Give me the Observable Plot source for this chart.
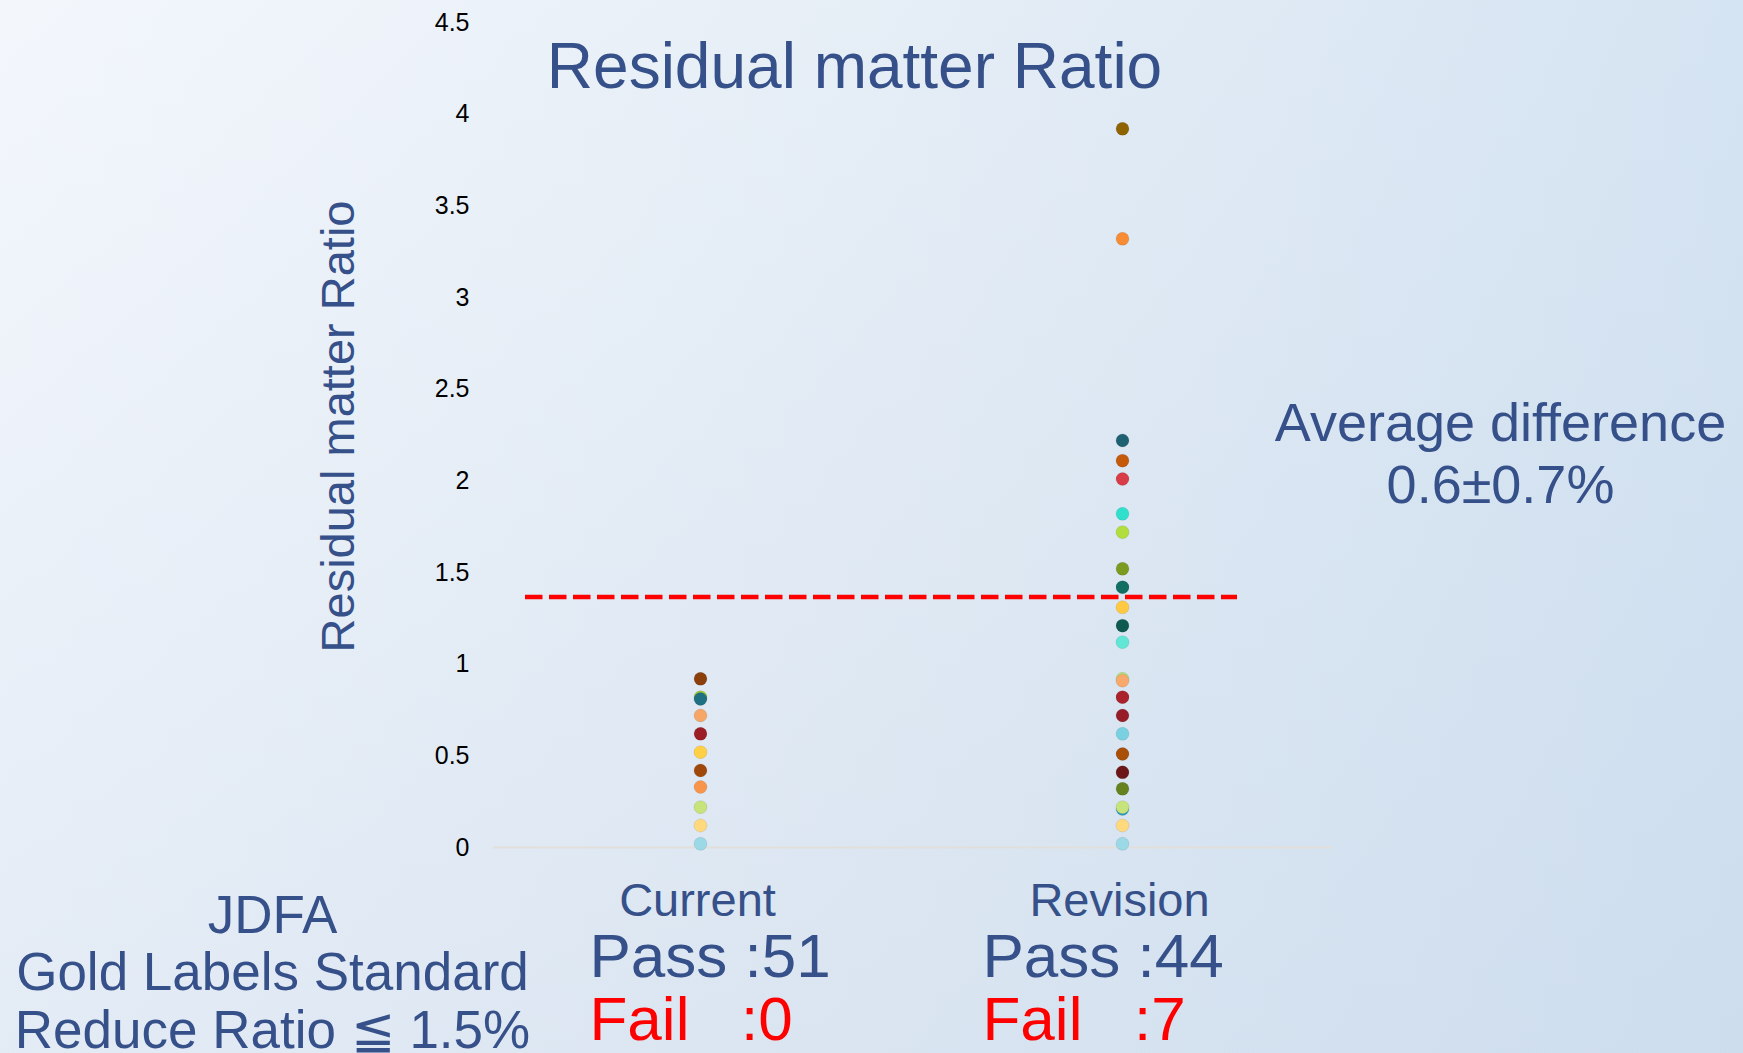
<!DOCTYPE html>
<html>
<head>
<meta charset="utf-8">
<script src="https://cdn.jsdelivr.net/npm/d3@7"></script>
<script src="https://cdn.jsdelivr.net/npm/@observablehq/plot@0.6"></script>
<style>
  html, body { margin: 0; padding: 0; }
  #chart {
    width: 1743px; height: 1053px; overflow: hidden;
    background:
      linear-gradient(to bottom, rgba(180,200,225,0) 0%, rgba(180,200,225,0.25) 100%),
      linear-gradient(to right, #f3f7fc 0%, #e6eef6 50%, #d5e4f2 100%);
  }
</style>
</head>
<body>
<div id="chart"></div>
<script>
// ---- data ----
const categories = ["Current", "Revision"];
const currentValues = [0.92, 0.82, 0.81, 0.72, 0.62, 0.52, 0.42, 0.33, 0.22, 0.12, 0.02];
const currentColors = ["#8b3f0b", "#9ccb3a", "#1f7083", "#f6a666", "#9b1d26", "#ffcf45", "#a0480a", "#f7954a", "#c6e37c", "#ffd97c", "#9bd9e6"];
const revisionValues = [3.92, 3.32, 2.22, 2.11, 2.01, 1.82, 1.72, 1.52, 1.42, 1.31, 1.21, 1.12, 0.92, 0.91, 0.82, 0.72, 0.62, 0.51, 0.41, 0.32, 0.21, 0.22, 0.12, 0.02];
const revisionColors = ["#8f6400", "#f78c34", "#1d6172", "#c55a0b", "#d83c46", "#2fe0cc", "#b2de3d", "#7a9a20", "#116e62", "#ffca42", "#0e5a50", "#62e6d5", "#b6e07c", "#f9a96c", "#aa222b", "#961d27", "#79d0e1", "#a94f07", "#6d1619", "#65821f", "#2a9bc1", "#c7e47c", "#ffd97c", "#9bd9e6"];
const yTicks = [0, 0.5, 1, 1.5, 2, 2.5, 3, 3.5, 4, 4.5];
const yTickLabels = ["0", "0.5", "1", "1.5", "2", "2.5", "3", "3.5", "4", "4.5"];
const threshold = 1.366;
const passCounts = [51, 44];
const failCounts = [0, 7];
const titleText = "Residual matter Ratio";
const yLabelText = "Residual matter Ratio";
const avgText = "Average difference\n0.6±0.7%";
const standardText = "JDFA\nGold Labels Standard\nReduce Ratio ≦ 1.5%";

const points = [
  ...currentValues.map((v, i) => ({group: categories[0], value: v, color: currentColors[i]})),
  ...revisionValues.map((v, i) => ({group: categories[1], value: v, color: revisionColors[i]}))
];

// ---- styles ----
const blue = "#36508a";
const font = "'Liberation Sans', Arial, sans-serif";

const chart = Plot.plot({
  width: 1743,
  height: 1053,
  marginLeft: 493,
  marginRight: 411,
  marginTop: 22,
  marginBottom: 206,
  style: {background: "transparent", fontFamily: font, overflow: "visible"},
  x: {type: "point", domain: categories, range: [700, 1122], padding: 0},
  y: {domain: [0, 4.5]},
  color: {type: "identity"},
  marks: [
    Plot.axisY({ticks: yTicks, tickFormat: (d, i) => yTickLabels[i], tickSize: 0, tickPadding: 24, fontSize: 25, color: "black", label: null}),
    Plot.axisX({tickSize: 0, tickPadding: 35, fontSize: 47, dx: -3, color: blue, label: null}),
    Plot.ruleY([0], {stroke: "#e2dfdb", strokeWidth: 2}),
    Plot.ruleY([threshold], {stroke: "#ff0000", strokeWidth: 4.5, strokeDasharray: "17.5 6.5", insetLeft: 32, insetRight: 95}),
    Plot.dot(points, {x: "group", y: "value", fill: "color", r: 6.5, stroke: "rgba(0,0,0,0.08)", strokeWidth: 1}),
    Plot.text([titleText], {frameAnchor: "top-left", dx: 361, dy: 20, fontSize: 64, fill: blue, textAnchor: "middle", lineAnchor: "top"}),
    Plot.text([yLabelText], {frameAnchor: "top-left", dx: -173, dy: 404, rotate: -90, fontSize: 47, fill: blue, textAnchor: "middle", lineAnchor: "top"}),
    Plot.text([avgText], {frameAnchor: "top-left", dx: 1007, dy: 374, fontSize: 54, lineHeight: 1.15, fill: blue, textAnchor: "middle", lineAnchor: "top"}),
    Plot.text([standardText], {frameAnchor: "top-left", dx: -221, dy: 870, fontSize: 53, lineHeight: 1.08, fill: blue, textAnchor: "middle", lineAnchor: "top"}),
    Plot.text([`Pass :${passCounts[0]}`], {frameAnchor: "top-left", dx: 96, dy: 910, fontSize: 62, fill: blue, textAnchor: "start", lineAnchor: "top"}),
    Plot.text([`Fail\u00a0\u00a0\u00a0:${failCounts[0]}`], {frameAnchor: "top-left", dx: 96, dy: 973, fontSize: 62, fill: "#ff0000", textAnchor: "start", lineAnchor: "top"}),
    Plot.text([`Pass :${passCounts[1]}`], {frameAnchor: "top-left", dx: 489, dy: 910, fontSize: 62, fill: blue, textAnchor: "start", lineAnchor: "top"}),
    Plot.text([`Fail\u00a0\u00a0\u00a0:${failCounts[1]}`], {frameAnchor: "top-left", dx: 489, dy: 973, fontSize: 62, fill: "#ff0000", textAnchor: "start", lineAnchor: "top"})
  ]
});
document.getElementById("chart").append(chart);
</script>
</body>
</html>
